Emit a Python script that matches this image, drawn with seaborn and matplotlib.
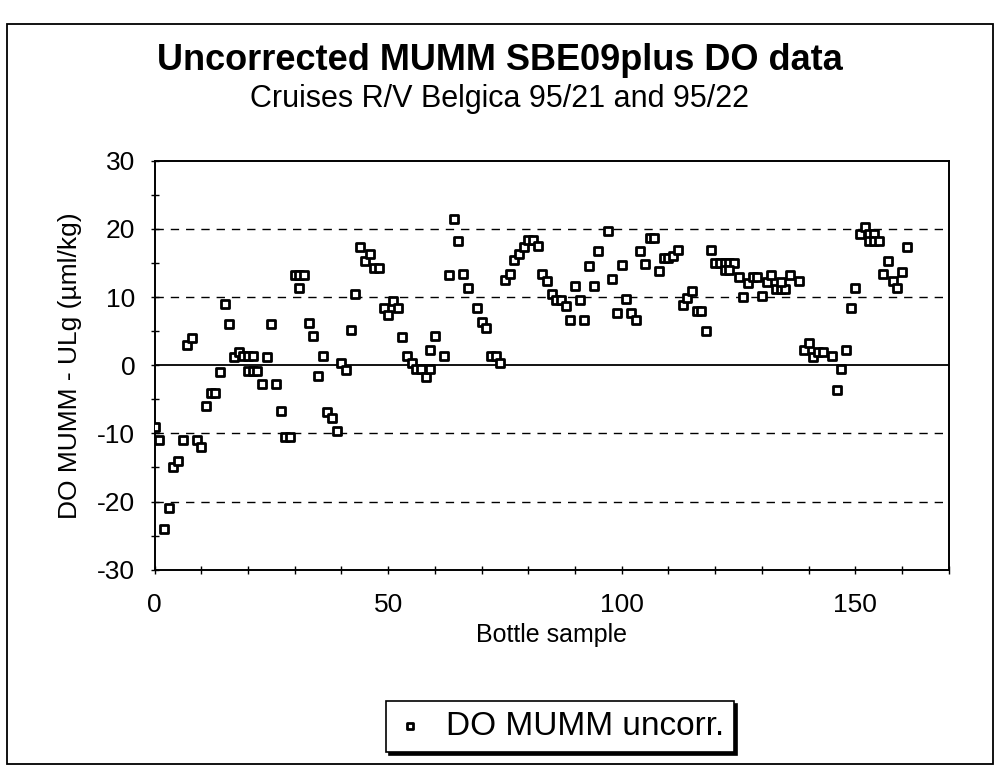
import pandas as pd
import matplotlib.pyplot as plt
import seaborn as sns
from matplotlib.ticker import MultipleLocator
from matplotlib.patches import Rectangle

# bottle sample index and DO difference (MUMM - ULg)
sample = [0, 1, 2, 3, 4, 5, 6, 7, 8, 9, 10, 11, 12, 13, 14, 15, 16, 17, 18, 19,
          20, 21, 20, 21, 22, 23, 24, 25, 26, 27, 28, 29, 30, 31, 32, 31, 33, 34, 35, 36,
          37, 38, 39, 40, 41, 42, 43, 44, 45, 46, 47, 48, 49, 50, 51, 52, 53, 54, 55, 56,
          57, 58, 59, 59, 60, 62, 63, 64, 65, 66, 67, 69, 70, 71, 72, 73, 74, 75, 76, 77,
          78, 79, 80, 81, 82, 83, 84, 85, 86, 87, 88, 89, 90, 91, 92, 93, 94, 95, 97, 98,
          99, 100, 101, 102, 103, 104, 105, 106, 107, 108, 109, 110, 111, 112, 113, 114, 115, 116, 117, 118,
          119, 120, 121, 122, 123, 124, 122, 123, 125, 126, 127, 128, 129, 130, 131, 132, 133, 134, 135, 134,
          136, 138, 139, 140, 141, 142, 143, 145, 146, 147, 148, 149, 150, 151, 152, 153, 154, 153, 154, 155,
          156, 157, 158, 159, 160, 161]
do_diff = [-9, -11, -24, -21, -15, -14, -11, 3, 4, -11, -12, -6, -4, -4, -1, 9, 6, 1.2, 2, 1.3,
           1.3, 1.3, -0.8, -0.8, -0.8, -2.8, 1.2, 6.1, -2.8, -6.7, -10.5, -10.5, 13.3, 13.3, 13.3, 11.3, 6.2, 4.3, -1.6, 1.3,
           -6.8, -7.8, -9.6, 0.4, -0.7, 5.2, 10.4, 17.4, 15.3, 16.3, 14.3, 14.3, 8.4, 7.3, 9.4, 8.4, 4.2, 1.4, 0.4, -0.6,
           -0.6, -1.7, -0.6, 2.3, 4.3, 1.4, 13.3, 21.4, 18.3, 13.4, 11.4, 8.4, 6.4, 5.4, 1.4, 1.4, 0.4, 12.5, 13.4, 15.4,
           16.3, 17.3, 18.4, 18.4, 17.5, 13.4, 12.4, 10.5, 9.6, 9.6, 8.7, 6.6, 11.6, 9.5, 6.6, 14.6, 11.6, 16.7, 19.7, 12.7,
           7.7, 14.7, 9.7, 7.7, 6.7, 16.7, 14.9, 18.7, 18.7, 13.8, 15.8, 15.8, 16, 16.9, 8.9, 9.9, 10.9, 7.9, 7.9, 5,
           16.9, 15, 15, 15, 15, 15, 14, 14, 13, 10, 12, 13, 13, 10.1, 12.2, 13.3, 11.2, 11.2, 11.2, 12.2,
           13.3, 12.3, 2.3, 3.3, 1.2, 2, 2, 1.4, -3.7, -0.6, 2.3, 8.4, 11.3, 19.3, 20.3, 19.3, 19.3, 18.3, 18.3, 18.3,
           13.4, 15.3, 12.4, 11.4, 13.7, 17.4]

grid_levels = [-20, -10, 10, 20]

df = pd.DataFrame({"sample": sample, "diff": do_diff})

sns.set_style("white")
plt.rcParams['font.family'] = ['Liberation Sans', 'DejaVu Sans']
plt.rcParams['axes.unicode_minus'] = False
plt.rcParams['text.color'] = 'black'
plt.rcParams['axes.labelcolor'] = 'black'

fig = plt.figure(figsize=(10.04, 7.73), dpi=100)
ax = fig.add_axes([0.154, 0.263, 0.791, 0.529])

for lv in grid_levels:
    ax.axhline(lv, color='black', lw=1, ls=(0, (6, 5)), zorder=1)
ax.axhline(0, color='black', lw=1.3, zorder=1)

sns.scatterplot(data=df, x="sample", y="diff", marker='s', s=26, color='white',
                edgecolor='black', linewidth=2.0, label="DO MUMM uncorr.", ax=ax, zorder=3)

ax.set_xlim(0, 170)
ax.set_ylim(-30, 30)
ax.set_xticks([0, 50, 100, 150])
ax.set_yticks(range(-30, 31, 10))
ax.xaxis.set_minor_locator(MultipleLocator(10))
ax.yaxis.set_minor_locator(MultipleLocator(5))
ax.tick_params(which='both', direction='inout', length=6, width=1, color='black',
               bottom=True, left=True, top=False, right=False)
ax.tick_params(axis='both', labelsize=19, labelcolor='black')
ax.tick_params(axis='x', pad=14)
ax.tick_params(axis='y', pad=11)
for sp in ax.spines.values():
    sp.set_color('black')
    sp.set_linewidth(1.4)

ax.set_xlabel("Bottle sample", fontsize=18)
ax.set_ylabel("DO MUMM - ULg (µml/kg)", fontsize=19)
ax.xaxis.set_label_coords(0.5, -0.13)
ax.yaxis.set_label_coords(-0.092, 0.5)

leg = ax.legend(loc='center', bbox_to_anchor=(0.558, 0.06), bbox_transform=fig.transFigure,
                frameon=True, fancybox=False, edgecolor='black', framealpha=1, fontsize=24,
                handletextpad=0.7, handlelength=0.8, borderpad=0.3, markerscale=0.8,
                shadow={'facecolor': 'black', 'edgecolor': 'black', 'alpha': 1})
leg.get_frame().set_linewidth(1.2)

fig.text(0.498, 0.922, "Uncorrected MUMM SBE09plus DO data", fontsize=26, fontweight='bold',
         ha='center', va='center')
fig.text(0.498, 0.872, "Cruises R/V Belgica 95/21 and 95/22", fontsize=22, ha='center', va='center')

fig.patches.append(Rectangle((0.007, 0.012), 0.982, 0.957, transform=fig.transFigure,
                             fill=False, edgecolor='black', lw=1.3))

fig.savefig("out.png", dpi=100, facecolor='white')
